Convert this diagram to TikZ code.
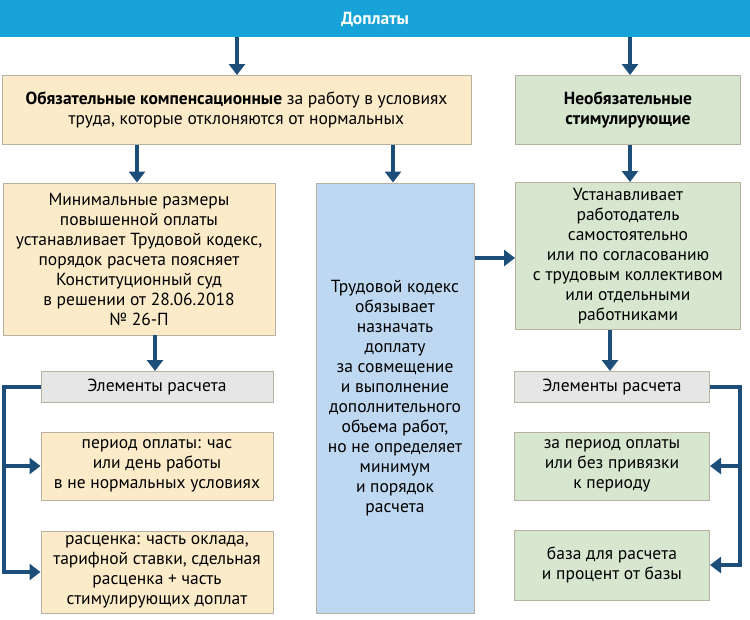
\documentclass[tikz,border=0pt]{standalone}
\usepackage{fontspec}
\setmainfont{PT Sans}
\usetikzlibrary{arrows.meta}
\definecolor{hdr}{HTML}{17A2D8}
\definecolor{beige}{HTML}{FCEBC9}
\definecolor{grn}{HTML}{D6E6CF}
\definecolor{blu}{HTML}{BDD8F0}
\definecolor{gry}{HTML}{E6E6E6}
\definecolor{ln}{HTML}{1B4F7A}
\definecolor{bd}{HTML}{B8B0A0}
\begin{document}
\begin{tikzpicture}[x=1pt,y=-1pt,
  box/.style={draw=bd,line width=1pt,inner sep=0pt,align=center,font=\fontsize{17.5}{20}\selectfont},
  arr/.style={draw=ln,line width=4pt,-{Triangle[length=11pt,width=16pt]}},
  ln/.style={draw=ln,line width=4pt}]
\useasboundingbox (0,0) rectangle (750,619);
\fill[white] (0,0) rectangle (750,619);
\fill[hdr] (0,0) rectangle (750,37);
\node[text=white,font=\fontsize{17.5}{20}\bfseries] (h) at (375,19) {Доплаты};
\node[box,fill=beige,minimum width=469,minimum height=69] (b1) at (236.5,110) {\textbf{Обязательные компенсационные} за работу в условиях\\труда, которые отклоняются от нормальных};
\node[box,fill=grn,minimum width=225,minimum height=69] (b2) at (628,110) {\textbf{Необязательные}\\\textbf{стимулирующие}};
\node[box,fill=beige,minimum width=272,minimum height=152] (b3) at (139,259) {Минимальные размеры\\повышенной оплаты\\устанавливает Трудовой кодекс,\\порядок расчета поясняет\\Конституционный суд\\в решении от 28.06.2018\\№ 26-П};
\node[box,fill=blu,minimum width=158,minimum height=430] (b4) at (395,398) {Трудовой кодекс\\обязывает\\назначать\\доплату\\за совмещение\\и выполнение\\дополнительного\\объема работ,\\но не определяет\\минимум\\и порядок\\расчета};
\node[box,fill=grn,minimum width=225,minimum height=147] (b5) at (628,256) {Устанавливает\\работодатель\\самостоятельно\\или по согласованию\\с трудовым коллективом\\или отдельными\\работниками};
\node[box,fill=gry,minimum width=232,minimum height=31] (g1) at (157,387) {Элементы расчета};
\node[box,fill=beige,minimum width=232,minimum height=68] (l1) at (157,466) {период оплаты: час\\или день работы\\в не нормальных условиях};
\node[box,fill=beige,minimum width=232,minimum height=82] (l2) at (157,572) {расценка: часть оклада,\\тарифной ставки, сдельная\\расценка + часть\\стимулирующих доплат};
\node[box,fill=gry,minimum width=195,minimum height=31] (g2) at (612,387) {Элементы расчета};
\node[box,fill=grn,minimum width=195,minimum height=68] (r1) at (612,466) {за период оплаты\\или без привязки\\к периоду};
\node[box,fill=grn,minimum width=195,minimum height=70] (r2) at (612,565) {база для расчета\\и процент от базы};
\coordinate (t1) at (237,37);
\coordinate (t2) at (630,37);
\coordinate (s1) at (137,145);
\coordinate (s2) at (393,145);
\coordinate (s3) at (630,145);
\coordinate (m1) at (155,335);
\coordinate (m2) at (610,330);
\coordinate (my) at (0,258);
\draw[arr] (t1) -- (t1 |- b1.north);
\draw[arr] (t2) -- (t2 |- b2.north);
\draw[arr] (s1) -- (s1 |- b3.north);
\draw[arr] (s2) -- (s2 |- b4.north);
\draw[arr] (s3) -- (s3 |- b5.north);
\draw[arr] (b4.east |- my) -- (b5.west |- my);
\draw[arr] (m1) -- (m1 |- g1.north);
\draw[arr] (m2) -- (m2 |- g2.north);
\coordinate (lc) at (4,387);
\coordinate (ld) at (4,574);
\coordinate (rc) at (740,387);
\coordinate (rd) at (740,567);
\draw[ln] (g1.west) -- (lc) -- (ld);
\draw[arr] (lc |- l1.west) -- (l1.west);
\draw[arr] (lc |- l2.west) -- (l2.west);
\draw[ln] (g2.east) -- (rc) -- (rd);
\draw[arr] (rc |- r1.east) -- (r1.east);
\draw[arr] (rc |- r2.east) -- (r2.east);
\end{tikzpicture}
\end{document}
